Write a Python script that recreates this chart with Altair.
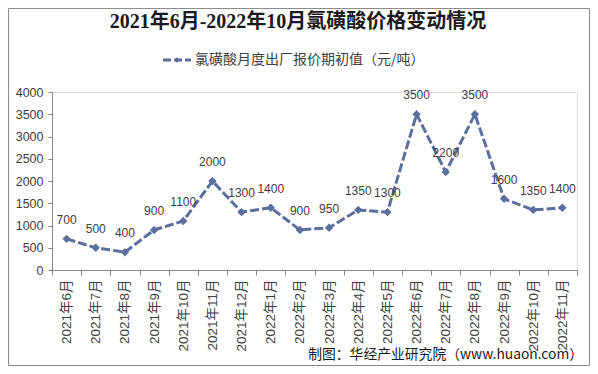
import altair as alt
import pandas as pd

months = ["2021年6月", "2021年7月", "2021年8月", "2021年9月", "2021年10月", "2021年11月",
          "2021年12月", "2022年1月", "2022年2月", "2022年3月", "2022年4月", "2022年5月",
          "2022年6月", "2022年7月", "2022年8月", "2022年9月", "2022年10月", "2022年11月"]
prices = [700, 500, 400, 900, 1100, 2000, 1300, 1400, 900, 950, 1350, 1300,
          3500, 2200, 3500, 1600, 1350, 1400]

title_text = "2021年6月-2022年10月氯磺酸价格变动情况"
legend_text = "氯磺酸月度出厂报价期初值（元/吨）"
footer_text = "制图：华经产业研究院（www.huaon.com）"

df = pd.DataFrame({"month": months, "price": prices})

SANS = "Liberation Sans, Arial, Noto Sans CJK SC"
CJK = "Noto Sans CJK SC"
LINE_COLOR = "#5B6E9E"
TEXT_COLOR = "#404040"

W, H = 525, 178

x_enc = alt.X("month:N", sort=months, bandPosition=0.5,
              scale=alt.Scale(type="band", paddingInner=0, paddingOuter=0),
              axis=alt.Axis(title=None, labelAngle=270, tickBand="extent", tickSize=5,
                            labelPadding=4, labelFont=SANS, labelFontSize=13.5,
                            labelColor=TEXT_COLOR, domainColor="#868686", tickColor="#868686",
                            labelOverlap=False))
y_enc = alt.Y("price:Q", scale=alt.Scale(domain=[0, 4000]),
              axis=alt.Axis(title=None, values=list(range(0, 4001, 500)), grid=False, format="d",
                            tickSize=4, labelPadding=5, labelFont=SANS, labelFontSize=12.5,
                            labelColor=TEXT_COLOR, domainColor="#868686", tickColor="#868686"))

base = alt.Chart(df)

line = base.mark_line(color=LINE_COLOR, strokeWidth=3, strokeDash=[9, 3]).encode(x=x_enc, y=y_enc)
pts = base.mark_point(shape="diamond", filled=True, size=70, color=LINE_COLOR, opacity=1).encode(x=x_enc, y=y_enc)
labels = base.mark_text(dy=-19, font=SANS, fontSize=12, color=TEXT_COLOR).encode(
    x=x_enc, y=y_enc, text="price:Q")

one = pd.DataFrame({"k": [0]})
ob = alt.Chart(one)

title = ob.mark_text(text=title_text, font="Liberation Serif, Noto Sans CJK SC", fontSize=20,
                     fontWeight="bold", color="#1a1a1a", align="center", baseline="middle").encode(
    x=alt.value(246), y=alt.value(-70))
leg_line = ob.mark_rule(color=LINE_COLOR, strokeWidth=3, strokeDash=[8, 3]).encode(
    x=alt.value(111), x2=alt.value(139), y=alt.value(-32))
leg_pt = ob.mark_point(shape="diamond", filled=True, size=30, color=LINE_COLOR, opacity=1).encode(
    x=alt.value(125), y=alt.value(-32))
leg_text = ob.mark_text(text=legend_text, font=CJK, fontSize=14, color=TEXT_COLOR,
                        align="left", baseline="middle").encode(x=alt.value(143), y=alt.value(-32))
footer = ob.mark_text(text=footer_text, font=CJK, fontSize=13.8, color="#1a1a1a",
                      align="right", baseline="middle").encode(x=alt.value(531), y=alt.value(263))
border = ob.mark_rect(fill=None, stroke="#8c8c8c", strokeWidth=1).encode(
    x=alt.value(-43.5), x2=alt.value(537.5), y=alt.value(-83.5), y2=alt.value(273.5))

chart = alt.layer(border, line, pts, labels, title, leg_line, leg_pt, leg_text, footer).properties(
    width=W, height=H,
    padding={"left": 44, "top": 84, "right": 13, "bottom": 96},
    autosize=alt.AutoSizeParams(type="none"),
).configure_view(stroke=None).configure(background="white")

chart.save("out.html", embed_options={"renderer": "svg", "actions": False})
